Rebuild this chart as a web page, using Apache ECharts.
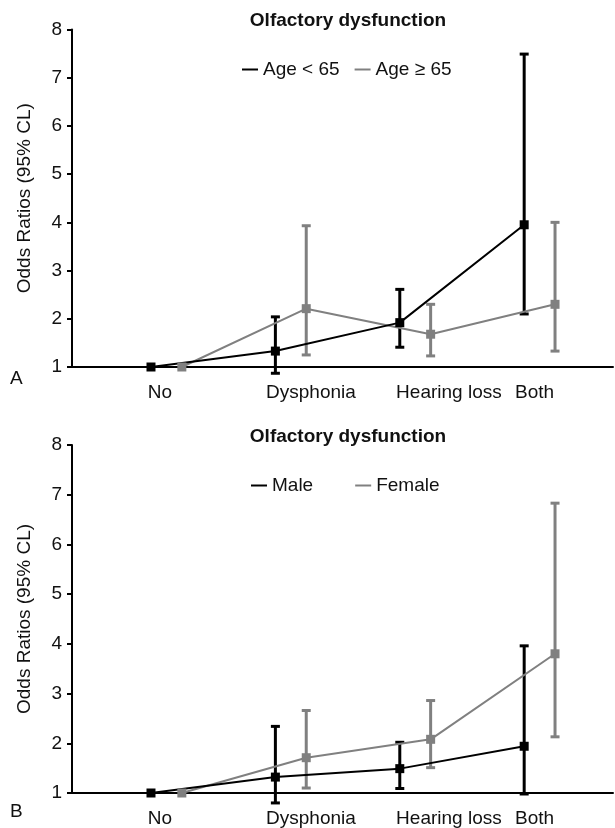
<!DOCTYPE html>
<html>
<head>
<meta charset="utf-8">
<script src="https://cdn.jsdelivr.net/npm/echarts@6/dist/echarts.min.js"></script>
<style>
html,body{margin:0;padding:0;background:#fff;}
#chart{width:615px;height:828px;}
</style>
</head>
<body>
<div id="chart"></div>
<script>
// ---------- DATA ----------
const categories = ['No', 'Dysphonia', 'Hearing loss', 'Both'];
const yTickLabels = ['1', '2', '3', '4', '5', '6', '7', '8'];

// Panel A: age groups
const ageUnder65OR   = [1.00, 1.33, 1.92, 3.95];
const ageUnder65Low  = [1.00, 0.87, 1.41, 2.10];
const ageUnder65High = [1.00, 2.04, 2.61, 7.49];
const age65PlusOR    = [1.00, 2.21, 1.68, 2.30];
const age65PlusLow   = [1.00, 1.25, 1.23, 1.33];
const age65PlusHigh  = [1.00, 3.93, 2.30, 4.00];

// Panel B: sex
const maleOR     = [1.00, 1.32, 1.49, 1.94];
const maleLow    = [1.00, 0.80, 1.09, 0.98];
const maleHigh   = [1.00, 2.34, 2.02, 3.96];
const femaleOR   = [1.00, 1.71, 2.08, 3.80];
const femaleLow  = [1.00, 1.10, 1.51, 2.13];
const femaleHigh = [1.00, 2.66, 2.86, 6.83];

// ---------- LAYOUT (positions on the category scale, not data) ----------
const groupOffset = [0, 0.248];               // black series / gray series
const labelAt = [0.072, 1.286, 2.395, 3.083]; // category label anchors
const X_MIN = -0.635, X_MAX = 3.714;

const FONT = "'Liberation Sans', Arial, sans-serif";
const BLACK = '#000000';
const GRAY = '#808080';
const FS = 19;

function linePts(vals, off) { return vals.map((v, i) => [i + off, v]); }
function errPts(lo, hi, off) {
  const out = [];
  lo.forEach((l, i) => { if (hi[i] !== l) out.push([i + off, l, hi[i]]); });
  return out;
}
function errRender(color, w) {
  return function (params, api) {
    const x = api.value(0), lo = api.value(1), hi = api.value(2);
    const a = api.coord([x, lo]), b = api.coord([x, hi]);
    const c = 4.5;
    const st = { stroke: color, lineWidth: w };
    return {
      type: 'group',
      children: [
        { type: 'line', shape: { x1: a[0], y1: a[1], x2: b[0], y2: b[1] }, style: st },
        { type: 'line', shape: { x1: a[0] - c, y1: a[1], x2: a[0] + c, y2: a[1] }, style: st },
        { type: 'line', shape: { x1: b[0] - c, y1: b[1], x2: b[0] + c, y2: b[1] }, style: st }
      ]
    };
  };
}

function xAxisCfg(gi) {
  return {
    type: 'value', gridIndex: gi, min: X_MIN, max: X_MAX,
    axisLine: { show: true, onZero: false, lineStyle: { color: BLACK, width: 2 } },
    axisTick: { show: false },
    splitLine: { show: false },
    axisLabel: {
      customValues: labelAt,
      margin: 16,
      color: '#111', fontFamily: FONT, fontSize: FS,
      formatter: function (v) {
        let best = 0, d = 1e9;
        labelAt.forEach((p, i) => { if (Math.abs(p - v) < d) { d = Math.abs(p - v); best = i; } });
        return categories[best];
      }
    }
  };
}
function yAxisCfg(gi) {
  return {
    type: 'value', gridIndex: gi, min: 1, max: 8, interval: 1,
    name: 'Odds Ratios (95% CL)', nameLocation: 'middle', nameGap: 38,
    nameTextStyle: { color: '#111', fontFamily: FONT, fontSize: FS },
    axisLine: { show: true, onZero: false, lineStyle: { color: BLACK, width: 2 } },
    axisTick: { show: true, length: 5, lineStyle: { color: BLACK, width: 2 } },
    splitLine: { show: false },
    axisLabel: {
      margin: 10, color: '#111', fontFamily: FONT, fontSize: FS,
      formatter: function (v) { return yTickLabels[v - 1] || ''; }
    }
  };
}
function lineSeries(name, vals, off, color, gi) {
  return {
    name: name, type: 'line', xAxisIndex: gi, yAxisIndex: gi,
    data: linePts(vals, off),
    symbol: 'rect', symbolSize: 9, showSymbol: true,
    lineStyle: { color: color, width: 2 },
    itemStyle: { color: color },
    emphasis: { disabled: true }, animation: false, z: 3
  };
}
function errSeries(lo, hi, off, color, gi) {
  return {
    name: 'err', type: 'custom', xAxisIndex: gi, yAxisIndex: gi,
    data: errPts(lo, hi, off), renderItem: errRender(color, 3),
    encode: { x: 0, y: [1, 2] }, clip: false, animation: false, z: 2, silent: true
  };
}

const chart = echarts.init(document.getElementById('chart'), null, { renderer: 'canvas' });
chart.setOption({
  backgroundColor: '#ffffff',
  animation: false,
  title: [
    { text: 'Olfactory dysfunction', left: 343, top: 6, textAlign: 'center',
      textStyle: { fontFamily: FONT, fontSize: FS, fontWeight: 'bold', color: '#111' } },
    { text: 'Olfactory dysfunction', left: 343, top: 422, textAlign: 'center',
      textStyle: { fontFamily: FONT, fontSize: FS, fontWeight: 'bold', color: '#111' } }
  ],
  legend: [
    { data: ['Age < 65', 'Age ≥ 65'], left: 237, top: 55, icon: 'rect',
      itemWidth: 16, itemHeight: 2, itemGap: 15, selectedMode: false,
      textStyle: { fontFamily: FONT, fontSize: FS, color: '#111' } },
    { data: ['Male', 'Female'], left: 246, top: 471, icon: 'rect',
      itemWidth: 16, itemHeight: 2, itemGap: 42, selectedMode: false,
      textStyle: { fontFamily: FONT, fontSize: FS, color: '#111' } }
  ],
  grid: [
    { left: 72, top: 29.5, width: 541, height: 337.5 },
    { left: 72, top: 445, width: 541, height: 351.7 }
  ],
  xAxis: [xAxisCfg(0), xAxisCfg(1)],
  yAxis: [yAxisCfg(0), yAxisCfg(1)],
  graphic: [
    { type: 'text', left: 10, top: 369, style: { text: 'A', fontFamily: FONT, fontSize: 19, fill: '#111' } },
    { type: 'text', left: 10, top: 802, style: { text: 'B', fontFamily: FONT, fontSize: 19, fill: '#111' } }
  ],
  series: [
    errSeries(age65PlusLow, age65PlusHigh, groupOffset[1], GRAY, 0),
    lineSeries('Age ≥ 65', age65PlusOR, groupOffset[1], GRAY, 0),
    errSeries(ageUnder65Low, ageUnder65High, groupOffset[0], BLACK, 0),
    lineSeries('Age < 65', ageUnder65OR, groupOffset[0], BLACK, 0),
    errSeries(femaleLow, femaleHigh, groupOffset[1], GRAY, 1),
    lineSeries('Female', femaleOR, groupOffset[1], GRAY, 1),
    errSeries(maleLow, maleHigh, groupOffset[0], BLACK, 1),
    lineSeries('Male', maleOR, groupOffset[0], BLACK, 1)
  ]
});
</script>
</body>
</html>
